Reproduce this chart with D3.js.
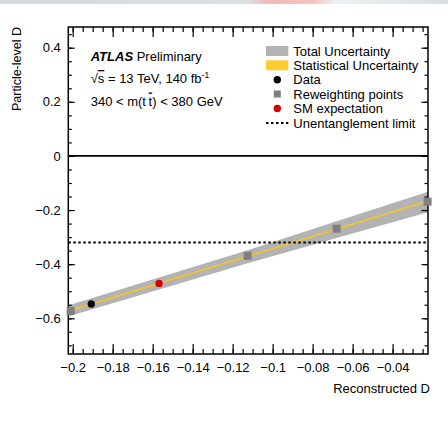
<!DOCTYPE html>
<html>
<head>
<meta charset="utf-8">
<script src="https://cdn.jsdelivr.net/npm/d3@7"></script>
<style>
  body { margin: 0; background: #fff; }
  svg { display: block; font-family: "Liberation Sans", Arial, Helvetica, sans-serif; }
</style>
</head>
<body>
<div id="chart"></div>
<script>
// values
const xTicks = [-0.2, -0.18, -0.16, -0.14, -0.12, -0.1, -0.08, -0.06, -0.04];
const yTicks = [-0.6, -0.4, -0.2, 0, 0.2, 0.4];

// reweighting points (grey squares)
const rwX = [-0.201, -0.1125, -0.068, -0.0225];
const rwY = [-0.573, -0.369, -0.269, -0.169];

// total uncertainty band
const bandX = [-0.2025, -0.1125, -0.068, -0.0223];
const bandLow = [-0.594, -0.397, -0.303, -0.208];
const bandHigh = [-0.553, -0.349, -0.241, -0.132];

// calibration line + statistical band
const fitX = [-0.2025, -0.0223];
const fitY = [-0.574, -0.167];
const statHalf = 0.003;

const dataX = [-0.1907], dataY = [-0.547];
const smX = [-0.1568], smY = [-0.471];
const unentangled = -0.32;

const legendLabels = ["Total Uncertainty", "Statistical Uncertainty", "Data",
  "Reweighting points", "SM expectation", "Unentanglement limit"];

const W = 448, H = 438;
const L = 68.3, R = 428, T = 27, B = 354;
const FS = 13;

const svg = d3.select("#chart").append("svg")
  .attr("width", W).attr("height", H);

// faint strip at the very top of the picture
const grad = svg.append("defs").append("linearGradient").attr("id", "strip");
[["0%", "#d3d6db"], ["55%", "#dde1e6"], ["60%", "#f1b9b9"], ["70%", "#f3c4c4"], ["75%", "#eef2f4"], ["100%", "#d9dee3"]]
  .forEach(s => grad.append("stop").attr("offset", s[0]).attr("stop-color", s[1]));
svg.append("rect").attr("x", 0).attr("y", 0).attr("width", W).attr("height", 4)
  .attr("fill", "url(#strip)");

const x = d3.scaleLinear().domain([-0.2022, -0.0223]).range([L, R]);
const y = d3.scaleLinear().domain([-0.732, 0.4765]).range([B, T]);

svg.select("defs").append("clipPath").attr("id", "frame")
  .append("rect").attr("x", L).attr("y", T).attr("width", R - L).attr("height", B - T);

const plot = svg.append("g").attr("clip-path", "url(#frame)");

// total uncertainty band
const band = bandX.map((d, i) => ({x: d, lo: bandLow[i], hi: bandHigh[i]}));
plot.append("path")
  .datum(band)
  .attr("fill", "#b3b3b3")
  .attr("d", d3.area().x(d => x(d.x)).y0(d => y(d.lo)).y1(d => y(d.hi)));

// statistical band
const fit = fitX.map((d, i) => ({x: d, y: fitY[i]}));
plot.append("path")
  .datum(fit)
  .attr("fill", "#f2c22e")
  .attr("d", d3.area().x(d => x(d.x)).y0(d => y(d.y - statHalf)).y1(d => y(d.y + statHalf)));

// zero line and unentanglement limit
svg.append("line")
  .attr("x1", L).attr("x2", R).attr("y1", y(0)).attr("y2", y(0))
  .attr("stroke", "#000").attr("stroke-width", 1.8);
svg.append("line")
  .attr("x1", L).attr("x2", R).attr("y1", y(unentangled)).attr("y2", y(unentangled))
  .attr("stroke", "#000").attr("stroke-width", 1.8).attr("stroke-dasharray", "2.5,2.5");

// axes: ticks point into the frame
const fmt = d => d3.format("~g")(d);
const xMinor = d3.range(-0.2, -0.0224, 0.005);
const yMinor = d3.range(-0.7, 0.4501, 0.05);

function axisG(axis, tx, ty) {
  const g = svg.append("g").attr("transform", `translate(${tx},${ty})`).call(axis);
  g.select(".domain").remove();
  g.selectAll("line").attr("stroke", "#000").attr("stroke-width", 1.2);
  g.selectAll("text").attr("font-size", FS).attr("fill", "#000")
    .attr("font-family", "'Liberation Sans', Arial, sans-serif");
  return g;
}

axisG(d3.axisBottom(x).tickValues(xMinor).tickSize(-5).tickFormat(""), 0, B);
const xg = axisG(d3.axisBottom(x).tickValues(xTicks).tickSize(-10).tickFormat(fmt).tickPadding(18), 0, B);
xg.selectAll("text").attr("dy", "0");
axisG(d3.axisTop(x).tickValues(xMinor).tickSize(-5).tickFormat(""), 0, T);
axisG(d3.axisTop(x).tickValues(xTicks).tickSize(-10).tickFormat(""), 0, T);

axisG(d3.axisLeft(y).tickValues(yMinor).tickSize(-3.5).tickFormat(""), L, 0);
axisG(d3.axisLeft(y).tickValues(yTicks).tickSize(-6.5).tickFormat(fmt).tickPadding(7.5), L, 0);
axisG(d3.axisRight(y).tickValues(yMinor).tickSize(-3.5).tickFormat(""), R, 0);
axisG(d3.axisRight(y).tickValues(yTicks).tickSize(-6.5).tickFormat(""), R, 0);

// frame
svg.append("rect")
  .attr("x", L).attr("y", T).attr("width", R - L).attr("height", B - T)
  .attr("fill", "none").attr("stroke", "#000").attr("stroke-width", 1.5);

// markers
svg.selectAll("rect.rw")
  .data(rwX.map((d, i) => ({x: d, y: rwY[i]})))
  .enter().append("rect")
  .attr("class", "rw")
  .attr("x", d => x(d.x) - 4).attr("y", d => y(d.y) - 4)
  .attr("width", 8).attr("height", 8)
  .attr("fill", "#808080");

svg.selectAll("circle.sm")
  .data(smX.map((d, i) => ({x: d, y: smY[i]})))
  .enter().append("circle")
  .attr("class", "sm")
  .attr("cx", d => x(d.x)).attr("cy", d => y(d.y)).attr("r", 3.7)
  .attr("fill", "#d40000");

svg.selectAll("circle.data")
  .data(dataX.map((d, i) => ({x: d, y: dataY[i]})))
  .enter().append("circle")
  .attr("class", "data")
  .attr("cx", d => x(d.x)).attr("cy", d => y(d.y)).attr("r", 3.7)
  .attr("fill", "#000");

// axis titles
svg.append("text")
  .attr("x", 430).attr("y", 393)
  .attr("text-anchor", "end").attr("font-size", FS)
  .text("Reconstructed D");
svg.append("text")
  .attr("transform", "translate(20.5,27) rotate(-90)")
  .attr("text-anchor", "end").attr("font-size", 12.5)
  .text("Particle-level D");

// ATLAS label
const lab = svg.append("g").attr("font-size", FS);
const t1 = lab.append("text").attr("x", 90.7).attr("y", 60.5);
t1.append("tspan").attr("font-weight", "bold").attr("font-style", "italic").text("ATLAS");
t1.append("tspan").text(" Preliminary");

const t2 = lab.append("text").attr("x", 90.7).attr("y", 83);
t2.append("tspan").text("√");
t2.append("tspan").style("text-decoration", "overline").text("s");
t2.append("tspan").text(" = 13 TeV, 140 fb");
t2.append("tspan").attr("font-size", 8.5).attr("dy", -5).text("-1");

const t3 = lab.append("text").attr("x", 90.7).attr("y", 105.5);
t3.append("tspan").text("340 < m(t\u2009");
t3.append("tspan").style("text-decoration", "overline").text("t");
t3.append("tspan").text(") < 380 GeV");

// legend
const rows = [51, 65.3, 79.7, 94, 108.5, 123];
const leg = svg.append("g").attr("font-size", FS);
leg.selectAll("text")
  .data(legendLabels)
  .enter().append("text")
  .attr("x", 293.3).attr("y", (d, i) => rows[i] + 4.6)
  .text(d => d);

leg.append("rect").attr("x", 266).attr("y", rows[0] - 5).attr("width", 22.3).attr("height", 10).attr("fill", "#b3b3b3");
leg.append("rect").attr("x", 266).attr("y", rows[1] - 5).attr("width", 22.3).attr("height", 10).attr("fill", "#ffcc33");
leg.append("circle").attr("cx", 277.3).attr("cy", rows[2]).attr("r", 3.7).attr("fill", "#000");
leg.append("rect").attr("x", 273.8).attr("y", rows[3] - 3.5).attr("width", 7).attr("height", 7).attr("fill", "#808080");
leg.append("circle").attr("cx", 277.3).attr("cy", rows[4]).attr("r", 3.7).attr("fill", "#d40000");
leg.append("line").attr("x1", 266).attr("x2", 288.3).attr("y1", rows[5]).attr("y2", rows[5])
  .attr("stroke", "#000").attr("stroke-width", 1.8).attr("stroke-dasharray", "2.5,2.5");
</script>
</body>
</html>
